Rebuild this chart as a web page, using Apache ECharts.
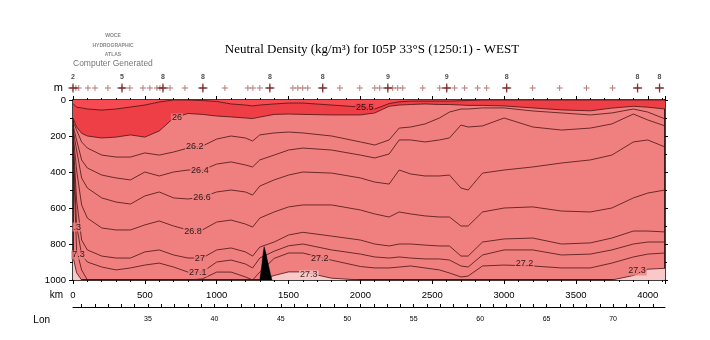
<!DOCTYPE html>
<html><head><meta charset="utf-8">
<script src="https://cdn.jsdelivr.net/npm/echarts@6/dist/echarts.min.js"></script>
<style>html,body{margin:0;padding:0;background:#fff}#c{width:710px;height:340px}</style>
</head><body><div id="c"></div>
<script>
// distance along section (km)
const kmGrid = [0,25,60,100,200,300,400,500,600,700,800,900,1000,1100,1200,1250,1300,1400,1500,1600,1800,2000,2100,2200,2270,2350,2450,2550,2620,2700,2750,2850,3000,3200,3400,3600,3750,3900,4000,4120];
// depth (m) of each neutral density surface
const level25_5 = [20,40,44,50,56,50,39,28,11,0,0,3,8,22,28,33,28,22,17,17,28,39,50,20,10,6,6,6,6,4,3,0,0,0,0,0,0,0,0,0];
const level26_0 = [100,150,185,200,211,206,194,206,172,100,75,80,89,94,100,103,95,80,78,80,83,83,72,35,28,25,22,25,25,28,30,30,33,44,55,60,45,35,40,50];
const level26_2 = [120,167,233,267,306,317,317,294,306,289,267,256,217,200,211,228,194,183,178,183,200,233,250,222,156,150,133,100,67,50,50,44,44,61,72,83,72,50,67,105];
const level26_4 = [140,222,333,378,417,433,444,400,422,400,389,389,356,344,361,372,333,306,278,267,278,306,322,300,222,222,233,222,211,139,150,144,100,150,167,156,133,78,111,144];
const level26_6 = [160,278,433,489,544,567,578,533,511,544,550,539,511,500,511,528,478,444,417,400,406,433,456,467,389,411,422,422,417,489,500,406,389,372,350,333,306,233,222,261];
const level26_8 = [180,389,583,656,711,722,722,694,672,700,722,722,678,667,689,706,656,622,594,583,583,611,633,650,622,633,644,650,650,700,700,622,600,594,617,622,600,544,517,500];
const level27_0 = [200,556,778,833,867,878,878,844,833,861,878,878,833,822,844,867,817,789,750,735,756,778,800,811,800,800,806,811,811,867,867,789,772,767,800,794,767,728,728,733];
const level27_1 = [230,694,861,900,928,944,933,917,906,928,956,956,900,889,911,933,878,840,810,800,833,856,872,878,872,878,883,883,889,922,928,861,833,833,861,856,833,800,789,789];
const level27_2 = [270,833,944,1000,1000,1000,1000,1000,1000,1000,1000,994,956,956,983,1000,956,880,850,850,890,925,933,933,928,922,933,944,961,983,978,922,917,922,933,933,906,872,856,850];
const level27_3 = [870,960,1000,1000,1000,1000,1000,1000,1000,1000,1000,1000,1000,1000,1000,1000,1000,975,955,955,990,1000,1000,1000,1000,1000,1000,1000,1000,1000,1000,1000,1000,1000,1000,1000,1000,975,940,935];
// bathymetry (seamount) outline
const ridgeKm = [1300,1312,1322,1330,1342,1358,1372,1385];
const ridgeDepth = [1000,930,860,815,850,910,960,1000];
// contour labels: km, depth, text, background key
const contourLabels = [
  [723,100,'26','c'],[2031,44,'25.5','r'],[848,261,'26.2','c'],[883,389,'26.4','c'],
  [897,539,'26.6','c'],[835,733,'26.8','c'],[883,883,'27','c'],[869,956,'27.1','c'],
  [1718,883,'27.2','c'],[1641,972,'27.3','p'],[3143,911,'27.2','c'],[3925,950,'27.3','c'],
  [30,706,'.3','c'],[38,861,'7.3','c']
];
// stations
const stationKm = [0,20,40,104,153,243,341,396,487,535,584,605,626,675,779,904,1057,1217,1252,1300,1370,1530,1565,1599,1634,1738,1857,1996,2100,2135,2191,2225,2260,2295,2434,2552,2601,2656,2726,2816,2879,3018,3199,3387,3574,3755,3929,4082];
const stationMajorKm = [0,341,626,904,1370,1738,2191,2601,3018,3929,4082];
const stationMajorLabels = ['2','5','8','8','8','8','9','9','8','8','8'];
const depthTicks = [0,200,400,600,800,1000];
const lonLabels = [35,40,45,50,55,60,65,70];
const lonTicks = [30,31,32,33,34,35,36,37,38,39,40,41,42,43,44,45,46,47,48,49,50,51,52,53,54,55,56,57,58,59,60,61,62,63,64,65,66,67,68,69,70,71,72,73];

const zip = (xs, ys) => xs.map((x, i) => [x, ys[i]]);
const LINE = '#4a1212';
const FONT = 'Liberation Sans';
const plain = v => String(v);

const levels = [level25_5, level26_0, level26_2, level26_4, level26_6, level26_8, level27_0, level27_1, level27_2, level27_3];

const series = [];
function fill(depths, color, origin, z) {
  series.push({type:'line', xAxisIndex:0, yAxisIndex:0, data: zip(kmGrid, depths), symbol:'none',
    lineStyle:{width:0}, areaStyle:{color, origin, opacity:1}, z, silent:true, animation:false});
}
fill(level26_0, '#ee3f47', 'start', 1);
fill(level25_5, '#f64b52', 'start', 2);
fill(level27_3, '#f9c8c8', 'end', 2);
levels.forEach(d => series.push({type:'line', xAxisIndex:0, yAxisIndex:0, data: zip(kmGrid, d), symbol:'none',
  lineStyle:{color:LINE, width:0.8}, z:3, silent:true, animation:false}));
series.push({type:'line', xAxisIndex:0, yAxisIndex:0, data: zip(ridgeKm, ridgeDepth), symbol:'none',
  lineStyle:{color:'#000', width:0.5}, areaStyle:{color:'#000', origin:'end', opacity:1}, z:4, silent:true, animation:false});
const bgFor = {c:'#f08080', r:'#ee3f47', p:'#f9c8c8'};
series.push({type:'scatter', xAxisIndex:0, yAxisIndex:0, symbolSize:1, itemStyle:{color:'transparent'}, z:5, animation:false,
  data: contourLabels.map(l => ({value:[l[0], l[1]], label:{backgroundColor: bgFor[l[3]]}, name:l[2]})),
  label:{show:true, position:'inside', formatter: p => p.name, fontFamily:FONT, fontSize:9, color:'#000', padding:[0,1]}});
// station markers
const plus = 'path://M4,0h1.4v4h4v1.4h-4v4h-1.4v-4h-4v-1.4h4z';
series.push({type:'scatter', xAxisIndex:3, yAxisIndex:2, symbol:plus, symbolSize:6, itemStyle:{color:'#a05050'},
  data: stationKm.map(k => [k, 0.5]), z:5, animation:false});
series.push({type:'scatter', xAxisIndex:3, yAxisIndex:2, symbol:plus, symbolSize:9, itemStyle:{color:'#6a1a1a'},
  data: stationMajorKm.map((k, i) => ({value:[k, 0.5], name: stationMajorLabels[i]})), z:6, animation:false,
  label:{show:true, position:'top', distance:3, formatter: p => p.name, fontSize:7, fontWeight:'bold', color:'#222', fontFamily:FONT}});

const axisCommon = {axisLine:{show:true, onZero:false, lineStyle:{color:'#000', width:1.5}}, splitLine:{show:false}};
const option = {
  animation:false,
  grid:[
    {left:73, top:100, width:592, height:180, show:true, backgroundColor:'#f08080', borderWidth:0},
    {left:73, top:82, width:592, height:12}
  ],
  xAxis:[
    Object.assign({type:'value', gridIndex:0, position:'bottom', min:0, max:4120, interval:500,
      axisTick:{show:true, length:4, lineStyle:{color:'#000'}}, minorTick:{show:true, splitNumber:5, length:2, lineStyle:{color:'#000'}},
      axisLabel:{show:true, margin:10, fontFamily:FONT, fontSize:9.5, color:'#000', showMaxLabel:false, formatter: plain}}, axisCommon),
    Object.assign({type:'value', gridIndex:0, position:'top', min:0, max:4120, interval:500,
      axisTick:{show:true, length:4, lineStyle:{color:'#000'}}, minorTick:{show:true, splitNumber:5, length:2, lineStyle:{color:'#000'}},
      axisLabel:{show:false}}, axisCommon),
    {type:'value', gridIndex:0, position:'bottom', offset:27, min:29.36, max:73.91,
      axisLine:{show:true, onZero:false, lineStyle:{color:'#000', width:1}},
      axisTick:{show:true, inside:true, length:3, customValues: lonTicks, lineStyle:{color:'#000'}},
      axisLabel:{show:true, customValues: lonLabels, margin:9, fontFamily:FONT, fontSize:7, color:'#000', formatter: plain}, splitLine:{show:false}},
    {type:'value', gridIndex:1, min:0, max:4120, show:false}
  ],
  yAxis:[
    Object.assign({type:'value', gridIndex:0, position:'left', inverse:true, min:0, max:1000, interval:200,
      axisTick:{show:true, length:4, lineStyle:{color:'#000'}}, minorTick:{show:true, splitNumber:2, length:3, lineStyle:{color:'#000'}},
      axisLabel:{show:true, margin:7, fontFamily:FONT, fontSize:9.5, color:'#000', customValues: depthTicks, formatter: plain}}, axisCommon),
    Object.assign({type:'value', gridIndex:0, position:'right', inverse:true, min:0, max:1000, interval:200,
      axisTick:{show:true, length:3, lineStyle:{color:'#000'}}, minorTick:{show:true, splitNumber:2, length:2, lineStyle:{color:'#000'}},
      axisLabel:{show:false}}, axisCommon),
    {type:'value', gridIndex:1, min:0, max:1, show:false}
  ],
  graphic:[
    {type:'text', x:372, y:50, style:{text:'Neutral Density (kg/m³) for I05P 33°S (1250:1) - WEST', font:'13px "Liberation Serif"', fill:'#000', align:'center', verticalAlign:'middle'}},
    {type:'text', x:113, y:36, style:{text:'WOCE', font:'bold 5px "Liberation Sans"', fill:'#888', align:'center', verticalAlign:'middle'}},
    {type:'text', x:113, y:46, style:{text:'HYDROGRAPHIC', font:'bold 5px "Liberation Sans"', fill:'#888', align:'center', verticalAlign:'middle'}},
    {type:'text', x:113, y:55, style:{text:'ATLAS', font:'bold 5px "Liberation Sans"', fill:'#888', align:'center', verticalAlign:'middle'}},
    {type:'text', x:73, y:64, style:{text:'Computer Generated', font:'8.5px "Liberation Sans"', fill:'#777', align:'left', verticalAlign:'middle'}},
    {type:'text', x:63, y:88, style:{text:'m', font:'11px "Liberation Sans"', fill:'#000', align:'right', verticalAlign:'middle'}},
    {type:'text', x:63, y:295, style:{text:'km', font:'10px "Liberation Sans"', fill:'#000', align:'right', verticalAlign:'middle'}},
    {type:'text', x:50, y:320, style:{text:'Lon', font:'10px "Liberation Sans"', fill:'#000', align:'right', verticalAlign:'middle'}}
  ],
  series
};
const chart = echarts.init(document.getElementById('c'), null, {renderer:'canvas'});
chart.setOption(option);
</script></body></html>
